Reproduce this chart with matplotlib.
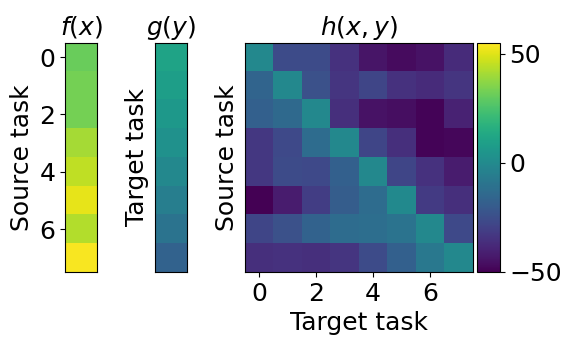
import numpy as np
import matplotlib
matplotlib.use("Agg")
import matplotlib.pyplot as plt

plt.rcParams["font.size"] = 18

# values (shared colour scale)
f_vals = [31, 33, 33, 41, 45, 51, 43, 54]
g_vals = [11, 9, 6, 3, -1, -5, -10, -17]
h_vals = [
    [-1, -26, -26, -35, -44, -47, -45, -37],
    [-16, -1, -24, -34, -28, -35, -37, -34],
    [-18, -14, -1, -36, -45, -46, -49, -40],
    [-33, -27, -13, -1, -28, -36, -49, -48],
    [-33, -26, -27, -18, -1, -28, -35, -42],
    [-50, -42, -31, -19, -13, 0, -32, -36],
    [-28, -24, -17, -13, -12, -10, -1, -27],
    [-36, -35, -36, -34, -26, -18, -8, -1],
]
VMIN, VMAX = -50, 55
cbar_ticks = [-50, 0, 50]

fig = plt.figure(figsize=(5.71, 3.46), dpi=100)
bottom, height = 0.214, 0.662

# f(x)
ax_f = fig.add_axes([0.114, bottom, 0.056, height])
ax_f.imshow(np.array(f_vals)[:, None], cmap="viridis", vmin=VMIN, vmax=VMAX,
            aspect="auto")
ax_f.set_xticks([])
ax_f.set_yticks([0, 2, 4, 6])
ax_f.set_ylabel("Source task")
ax_f.set_title("$f(x)$", fontsize=18)

# g(y)
ax_g = fig.add_axes([0.271, bottom, 0.056, height])
ax_g.imshow(np.array(g_vals)[:, None], cmap="viridis", vmin=VMIN, vmax=VMAX,
            aspect="auto")
ax_g.set_xticks([])
ax_g.set_yticks([])
ax_g.set_ylabel("Target task")
ax_g.set_title("$g(y)$", fontsize=18)

# h(x, y)
ax_h = fig.add_axes([0.429, bottom, 0.399, height])
im = ax_h.imshow(np.array(h_vals), cmap="viridis", vmin=VMIN, vmax=VMAX,
                 aspect="auto")
ax_h.set_xticks([0, 2, 4, 6])
ax_h.set_yticks([])
ax_h.set_xlabel("Target task")
ax_h.set_ylabel("Source task")
ax_h.set_title("$h(x, y)$", fontsize=18)

cax = fig.add_axes([0.835, bottom, 0.040, height])
cb = fig.colorbar(im, cax=cax)
cb.set_ticks(cbar_ticks)

fig.savefig("out.png", dpi=100)
